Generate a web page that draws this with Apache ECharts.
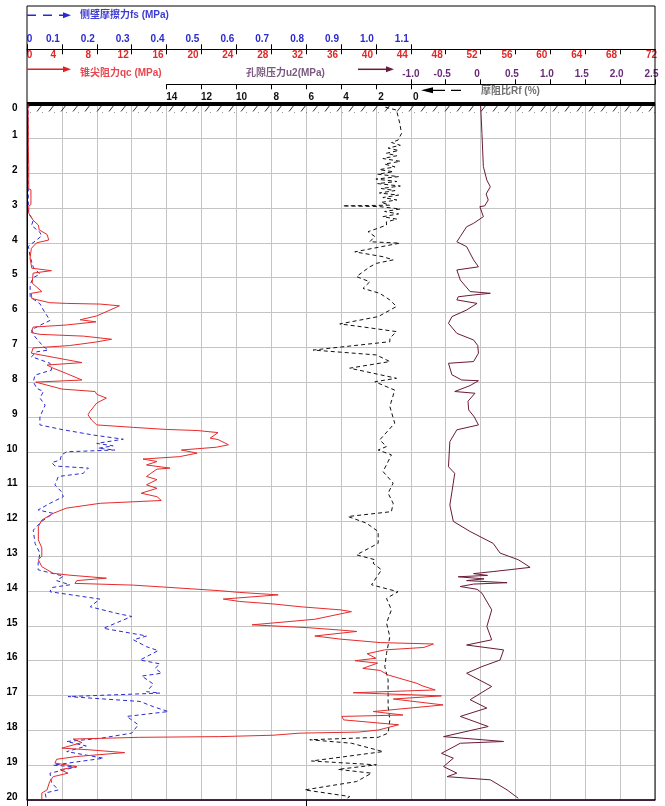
<!DOCTYPE html>
<html>
<head>
<meta charset="utf-8">
<script src="https://cdn.jsdelivr.net/npm/echarts@6/dist/echarts.min.js"></script>
<style>html,body{margin:0;padding:0;background:#fff}#c{width:665px;height:806px}</style>
</head>
<body>
<div id="c"></div>
<script>
// ---- data: [depth (m), value] ----
const qcProfile = [
[0.0,0.1],[0.6,0.15],[1.2,0.15],[1.8,0.2],[2.45,0.2],[2.48,0.45],[2.9,0.45],[2.95,0.2],[3.15,0.2],[3.35,0.7],[3.49,1.3],[3.63,1.4],[3.76,2.3],[3.92,2.5],[4.0,1.1],[4.16,0.5],[4.44,0.35],[4.73,0.55],[4.8,2.8],[4.87,0.7],[5.16,0.6],[5.4,1.7],[5.45,0.5],[5.6,0.55],[5.72,2.6],[5.74,4.5],[5.76,8.4],[5.81,10.6],[6.1,8.0],[6.21,6.1],[6.27,7.9],[6.36,4.5],[6.42,0.7],[6.58,0.5],[6.63,1.5],[6.68,6.5],[6.77,9.7],[6.85,7.9],[6.95,4.9],[7.02,0.7],[7.17,0.5],[7.44,6.3],[7.51,2.3],[7.6,3.0],[7.75,4.5],[7.94,6.3],[8.0,1.0],[8.2,4.0],[8.27,7.8],[8.35,8.0],[8.46,9.1],[8.6,8.0],[8.85,7.2],[8.94,7.0],[9.09,7.4],[9.23,8.0],[9.3,12.2],[9.36,16.0],[9.39,19.5],[9.45,21.9],[9.61,21.0],[9.65,21.9],[9.8,23.1],[9.87,21.7],[9.95,17.7],[10.04,19.5],[10.14,17.5],[10.21,13.3],[10.28,14.9],[10.38,13.7],[10.47,16.4],[10.5,14.9],[10.62,14.2],[10.71,13.7],[10.8,14.9],[10.95,13.7],[11.05,14.9],[11.19,13.1],[11.29,14.9],[11.4,15.4],[11.48,8.4],[11.62,4.5],[11.77,3.0],[11.96,1.7],[12.15,1.3],[12.53,1.3],[12.76,1.7],[13.0,1.7],[13.1,1.3],[13.3,1.7],[13.49,3.0],[13.54,4.7],[13.63,9.1],[13.7,5.7],[13.78,5.5],[13.83,12.2],[13.89,16.0],[13.99,22.1],[14.04,24.4],[14.11,28.8],[14.23,22.5],[14.3,24.4],[14.37,28.2],[14.45,31.3],[14.54,35.9],[14.59,37.2],[14.81,33.0],[14.97,25.8],[15.05,32.1],[15.12,35.9],[15.16,37.8],[15.29,33.0],[15.38,35.9],[15.48,40.5],[15.52,46.6],[15.62,45.5],[15.69,41.0],[15.8,39.0],[15.93,40.0],[16.0,37.6],[16.07,40.2],[16.22,38.5],[16.28,40.5],[16.41,41.4],[16.65,44.7],[16.72,45.3],[16.84,46.8],[16.92,37.4],[17.01,47.5],[17.1,42.0],[17.27,47.7],[17.46,39.7],[17.56,43.1],[17.6,36.1],[17.7,36.3],[17.84,42.6],[17.99,40.3],[18.05,38.0],[18.08,31.3],[18.14,28.2],[18.18,22.1],[18.2,12.9],[18.25,5.3],[18.35,6.3],[18.51,4.0],[18.56,7.2],[18.64,11.2],[18.75,5.7],[18.83,3.4],[18.94,3.2],[19.04,5.7],[19.13,3.8],[19.23,4.7],[19.33,3.0],[19.47,2.6],[19.71,2.3],[19.8,1.7],[20.0,1.7]
];
const fsProfile = [
[0,0.003],[1.5,0.003],[3.15,0.004],[3.35,0.018],[3.5,0.013],[3.7,0.037],[3.8,0.042],[3.9,0.03],[4.1,0.004],[4.4,0.009],[4.7,0.018],[4.9,0.037],[5.0,0.018],[5.2,0.009],[5.55,0.009],[5.75,0.037],[5.93,0.047],[6.23,0.066],[6.37,0.037],[6.5,0.013],[6.7,0.023],[6.98,0.047],[7.08,0.061],[7.13,0.028],[7.27,0.013],[7.46,0.066],[7.65,0.071],[7.8,0.023],[7.99,0.018],[8.18,0.028],[8.27,0.047],[8.46,0.037],[8.66,0.052],[9.0,0.037],[9.23,0.037],[9.37,0.104],[9.52,0.19],[9.64,0.276],[9.76,0.2],[9.83,0.247],[9.9,0.204],[9.95,0.252],[10.0,0.114],[10.09,0.099],[10.24,0.095],[10.31,0.071],[10.41,0.08],[10.44,0.128],[10.47,0.176],[10.62,0.161],[10.71,0.09],[10.95,0.08],[11.15,0.099],[11.29,0.104],[11.48,0.066],[11.67,0.032],[11.77,0.075],[12.0,0.042],[12.25,0.018],[12.63,0.023],[12.91,0.037],[13.2,0.032],[13.39,0.032],[13.57,0.104],[13.7,0.085],[13.82,0.123],[13.9,0.071],[14.02,0.066],[14.23,0.209],[14.45,0.181],[14.64,0.257],[14.73,0.3],[15.07,0.219],[15.29,0.343],[15.4,0.305],[15.6,0.343],[15.71,0.376],[15.98,0.324],[16.09,0.381],[16.22,0.367],[16.36,0.386],[16.44,0.329],[16.67,0.362],[16.89,0.343],[16.93,0.381],[17.03,0.118],[17.17,0.324],[17.32,0.362],[17.46,0.405],[17.6,0.286],[17.7,0.3],[17.84,0.319],[18.08,0.3],[18.23,0.209],[18.32,0.114],[18.45,0.17],[18.61,0.114],[18.8,0.219],[19.0,0.075],[19.05,0.142],[19.23,0.066],[19.5,0.07],[19.71,0.09],[19.8,0.052],[20.0,0.056]
];
const u2Profile = [
[0.0,1.2],[0.1,1.5],[0.19,0.82],[0.57,0.63],[0.86,0.53],[1.05,0.73],[1.12,1.1],[1.2,0.6],[1.28,1.3],[1.35,0.7],[1.43,1.4],[1.5,0.8],[1.58,1.6],[1.66,0.6],[1.74,1.5],[1.82,0.9],[1.9,1.8],[1.96,1.0],[2.03,1.9],[2.1,0.7],[2.17,2.0],[2.24,0.8],[2.3,1.9],[2.37,0.6],[2.44,1.7],[2.5,0.9],[2.57,1.8],[2.63,0.7],[2.7,1.6],[2.77,0.8],[2.84,1.7],[2.92,1.2],[2.94,3.9],[2.96,1.8],[3.03,0.6],[3.1,1.5],[3.17,0.7],[3.25,1.6],[3.32,0.8],[3.4,1.4],[3.49,1.39],[3.58,1.87],[3.68,2.45],[3.82,2.06],[3.97,2.35],[4.01,0.63],[4.26,3.21],[4.4,1.59],[4.49,1.01],[4.59,1.97],[4.69,2.35],[4.97,3.11],[5.12,2.35],[5.31,2.74],[5.45,1.78],[5.64,1.2],[5.83,0.82],[6.12,1.87],[6.33,4.07],[6.41,2.83],[6.55,0.82],[6.74,1.2],[6.84,1.2],[7.08,5.6],[7.13,5.6],[7.22,1.97],[7.41,1.2],[7.6,3.5],[7.89,0.82],[7.99,2.06],[8.23,0.92],[8.7,1.2],[9.18,0.92],[9.66,1.78],[9.85,1.39],[9.95,1.87],[10.09,1.11],[10.57,1.59],[10.9,1.01],[11.19,1.3],[11.48,1.01],[11.72,1.11],[11.86,3.6],[12.05,2.54],[12.29,1.87],[12.63,1.87],[12.96,3.11],[13.1,2.06],[13.2,2.16],[13.39,1.68],[13.82,2.25],[14.02,0.73],[14.21,1.39],[14.54,1.11],[14.92,1.39],[15.31,1.2],[15.79,1.39],[16.17,1.49],[16.55,1.3],[16.93,1.3],[17.32,1.3],[17.7,1.2],[18.08,1.3],[18.2,1.87],[18.27,5.79],[18.37,3.4],[18.61,1.59],[18.88,5.69],[18.99,1.97],[19.12,4.17],[19.23,2.25],[19.47,3.11],[19.71,6.08],[19.9,3.5],[20.0,3.8]
];
const rfProfile = [
[0.0,0.0],[0.86,0.02],[1.81,0.04],[2.2,0.09],[2.39,0.14],[2.6,0.08],[2.77,0.11],[2.94,0.06],[2.96,-0.01],[3.25,0.04],[3.44,-0.1],[3.54,-0.2],[3.82,-0.29],[3.97,-0.34],[4.11,-0.2],[4.49,-0.1],[4.69,-0.03],[4.78,-0.34],[5.07,-0.29],[5.4,-0.15],[5.45,0.14],[5.5,-0.11],[5.55,-0.32],[5.64,-0.34],[5.74,-0.05],[5.93,-0.2],[6.12,-0.41],[6.31,-0.46],[6.6,-0.34],[6.79,-0.1],[6.95,-0.04],[7.17,-0.03],[7.41,-0.1],[7.46,-0.46],[7.79,-0.41],[7.94,-0.27],[7.96,-0.03],[8.1,-0.15],[8.27,-0.37],[8.32,-0.08],[8.55,-0.18],[8.8,-0.17],[9.0,-0.09],[9.23,-0.03],[9.37,-0.34],[9.71,-0.44],[10.43,-0.46],[10.62,-0.37],[11.15,-0.41],[11.53,-0.44],[12.0,-0.39],[12.29,-0.15],[12.63,0.18],[12.91,0.28],[13.1,0.54],[13.2,0.62],[13.32,0.71],[13.38,0.45],[13.44,0.18],[13.5,-0.1],[13.55,0.1],[13.59,-0.32],[13.65,0.05],[13.7,-0.2],[13.76,0.38],[13.8,-0.1],[13.87,-0.29],[13.95,-0.05],[14.06,0.02],[14.54,0.16],[15.02,0.09],[15.4,0.16],[15.55,-0.2],[15.69,0.33],[15.98,0.28],[16.17,0.02],[16.36,-0.2],[16.74,0.16],[17.12,-0.15],[17.36,0.09],[17.6,-0.29],[17.89,0.11],[18.18,-0.53],[18.32,0.33],[18.37,-0.29],[18.66,-0.56],[18.8,-0.39],[19.04,-0.53],[19.23,-0.34],[19.33,-0.48],[19.42,0.14],[19.71,0.38],[19.95,0.54]
];
// ---- axis tick labels ----
const qcTicks = [0,4,8,12,16,20,24,28,32,36,40,44,48,52,56,60,64,68,72];
const fsTicks = [0,0.1,0.2,0.3,0.4,0.5,0.6,0.7,0.8,0.9,1.0,1.1];
const u2Ticks = [0,2,4,6,8,10,12,14];
const rfTicks = [-1.0,-0.5,0,0.5,1.0,1.5,2.0,2.5];
const depthTicks = [0,1,2,3,4,5,6,7,8,9,10,11,12,13,14,15,16,17,18,19,20];

const FF = '"Liberation Sans", Arial, "Noto Sans CJK SC", sans-serif';
const chart = echarts.init(document.getElementById('c'), null, {renderer:'canvas'});

// hatch pattern for ground surface
const hc = document.createElement('canvas');
hc.width = 12; hc.height = 8;
const hx = hc.getContext('2d');
hx.strokeStyle = '#333'; hx.lineWidth = 1;
hx.beginPath(); hx.moveTo(1,7.5); hx.lineTo(6.5,0.5); hx.stroke();

function rs(color, pad){ return {color:color, fontSize:10, fontWeight:'bold', fontFamily:FF, padding:pad}; }
const swap = arr => arr.map(p => [p[1], p[0]]);

const option = {
  animation:false,
  grid:[
    {left:27, right:10, top:103.5, bottom:6},
    {left:166.7, right:10, top:84.3, height:10}
  ],
  xAxis:[
    { // qc
      gridIndex:0, type:'value', position:'top', offset:54.2, min:0, max:72, interval:4,
      axisLine:{show:true, onZero:false, lineStyle:{color:'#000', width:1}},
      axisTick:{show:true, inside:true, length:5, lineStyle:{color:'#000'}},
      axisLabel:{inside:true, margin:1, showMinLabel:true, showMaxLabel:true,
        customValues:qcTicks,
        formatter:v => v===0 ? '{z|0}' : (v===72 ? '{e|72}' : '{n|'+v+'}'),
        rich:{n:rs('#e02828',[0,17,0,0]), z:rs('#e02828',[0,0,0,5]), e:rs('#e02828',[0,7,0,0])}},
      splitLine:{show:true, lineStyle:{color:'#c4c4c4', width:1}}
    },
    { // fs
      gridIndex:0, type:'value', position:'top', offset:54.2, min:0, max:1.8,
      axisLine:{show:false, onZero:false},
      axisTick:{show:true, inside:false, length:5, customValues:fsTicks, lineStyle:{color:'#000'}},
      axisLabel:{margin:5, customValues:fsTicks, showMinLabel:true,
        formatter:v => v===0 ? '{z|0}' : '{n|'+v.toFixed(1)+'}',
        rich:{n:rs('#2a2ad0',[0,18,0,0]), z:rs('#2a2ad0',[0,0,0,5])}},
      splitLine:{show:false}
    },
    {gridIndex:0, type:'value', min:-14, max:22, inverse:true, show:false}, // u2 data axis
    {gridIndex:0, type:'value', min:-6.5, max:2.5, show:false}, // Rf data axis
    { // u2 header axis
      gridIndex:1, type:'value', position:'top', offset:0, min:-14, max:14, inverse:true,
      axisLine:{show:true, onZero:false, lineStyle:{color:'#000', width:1}},
      axisTick:{show:true, inside:true, length:5, customValues:u2Ticks, lineStyle:{color:'#000'}},
      axisLabel:{inside:true, margin:8, customValues:u2Ticks, showMinLabel:true, showMaxLabel:true,
        formatter:v => '{n|'+v+'}', rich:{n:rs('#111',[0,0,0,10])}},
      splitLine:{show:false}
    },
    { // Rf header axis
      gridIndex:1, type:'value', position:'top', offset:0, min:-4.5, max:2.5,
      axisLine:{show:false, onZero:false},
      axisTick:{show:true, inside:false, length:5, customValues:rfTicks, lineStyle:{color:'#000'}},
      axisLabel:{margin:5, customValues:rfTicks, showMinLabel:true, showMaxLabel:true,
        formatter:v => v===0 ? '{n|0}' : (v===-1 ? '{z|-1.0}' : '{n|'+v.toFixed(1)+'}'),
        rich:{n:rs('#6a2a7a',[0,7,0,0]), z:rs('#6a2a7a',[0,0,0,0])}},
      splitLine:{show:false}
    },
    { // bottom line
      gridIndex:0, type:'value', position:'bottom', min:0, max:72,
      axisLine:{show:true, onZero:false, lineStyle:{color:'#5a1a5a', width:1.5}},
      axisTick:{show:true, length:6, customValues:[0,32], lineStyle:{color:'#000'}},
      axisLabel:{show:false}, splitLine:{show:false}
    }
  ],
  yAxis:[
    {gridIndex:0, type:'value', inverse:true, min:0, max:20, interval:1,
      axisLine:{show:true, onZero:false, lineStyle:{color:'#000'}},
      axisTick:{show:false},
      axisLabel:{margin:9.5, customValues:depthTicks, showMinLabel:true, showMaxLabel:true,
        formatter:v => v===0 ? '{z|0}' : '{n|'+v+'}',
        rich:{n:rs('#000',[0,0,6,0]), z:rs('#000',[10,0,0,0])}},
      splitLine:{show:true, lineStyle:{color:'#c4c4c4', width:1}}
    },
    {gridIndex:1, type:'value', show:false}
  ],
  series:[
    {name:'qc', type:'line', xAxisIndex:0, yAxisIndex:0, data:swap(qcProfile), symbol:'none',
      lineStyle:{color:'#e62a2a', width:1}, z:5,
      markLine:{silent:true, symbol:['none','none'], label:{show:false},
        lineStyle:{color:'#000', width:4, type:'solid'}, data:[{yAxis:0}]},
      markArea:{silent:true, itemStyle:{color:{image:hc, repeat:'repeat'}},
        data:[[{yAxis:0.06},{yAxis:0.27}]]}
    },
    {name:'fs', type:'line', xAxisIndex:1, yAxisIndex:0, data:swap(fsProfile), symbol:'none',
      lineStyle:{color:'#2a2ad0', width:1, type:[4,3]}, z:4},
    {name:'u2', type:'line', xAxisIndex:2, yAxisIndex:0, data:swap(u2Profile), symbol:'none',
      lineStyle:{color:'#111', width:1, type:[4,3]}, z:4},
    {name:'Rf', type:'line', xAxisIndex:3, yAxisIndex:0, data:swap(rfProfile), symbol:'none',
      lineStyle:{color:'#6a1a3a', width:1}, z:4}
  ],
  graphic:[
    {type:'rect', shape:{x:27, y:6, width:628, height:794}, style:{fill:null, stroke:'#000', lineWidth:1}, z:100, silent:true},
    // fs legend
    {type:'line', shape:{x1:27, y1:15.3, x2:63, y2:15.3}, style:{stroke:'#2a2ad0', lineWidth:1.5, lineDash:[9,7]}, z:100},
    {type:'polygon', shape:{points:[[63,12.3],[71,15.3],[63,18.3]]}, style:{fill:'#2a2ad0'}, z:100},
    {type:'text', x:80, y:15.3, style:{text:'侧壁摩擦力fs (MPa)', fill:'#3c3cd2', font:'bold 10px '+FF, textVerticalAlign:'middle'}, z:100},
    // qc legend
    {type:'line', shape:{x1:27, y1:69.3, x2:63, y2:69.3}, style:{stroke:'#e02020', lineWidth:1.5}, z:100},
    {type:'polygon', shape:{points:[[63,66.3],[71,69.3],[63,72.3]]}, style:{fill:'#e02020'}, z:100},
    {type:'text', x:80, y:73.3, style:{text:'锥尖阻力qc (MPa)', fill:'#e8474f', font:'bold 10px '+FF, textVerticalAlign:'middle'}, z:100},
    // u2 legend
    {type:'text', x:246, y:73.3, style:{text:'孔隙压力u2(MPa)', fill:'#7a5a80', font:'bold 10px '+FF, textVerticalAlign:'middle'}, z:100},
    {type:'line', shape:{x1:358, y1:69.3, x2:387, y2:69.3}, style:{stroke:'#6a1a3f', lineWidth:1.5}, z:100},
    {type:'polygon', shape:{points:[[386,66.3],[394,69.3],[386,72.3]]}, style:{fill:'#6a1a3f'}, z:100},
    // Rf legend
    {type:'polygon', shape:{points:[[433,87.3],[421,90.3],[433,93.3]]}, style:{fill:'#000'}, z:100},
    {type:'line', shape:{x1:433, y1:90.3, x2:461, y2:90.3}, style:{stroke:'#000', lineWidth:1.2, lineDash:[12,6]}, z:100},
    {type:'text', x:481, y:91, style:{text:'摩阻比Rf (%)', fill:'#707070', font:'bold 10px '+FF, textVerticalAlign:'middle'}, z:100}
  ]
};
chart.setOption(option);
</script>
</body>
</html>
